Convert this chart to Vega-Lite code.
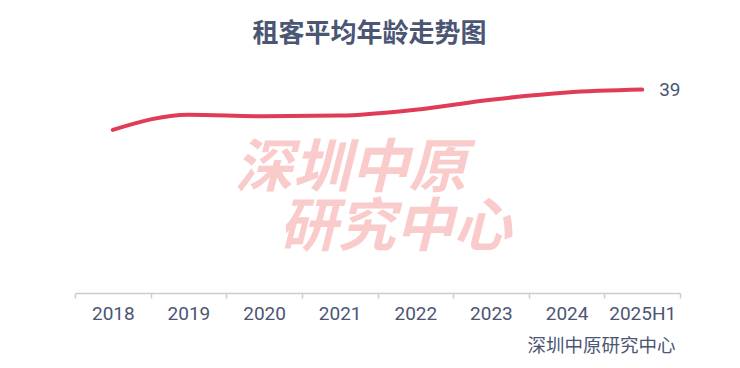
{
  "$schema": "https://vega.github.io/schema/vega-lite/v6.json",
  "width": 605,
  "height": 226,
  "autosize": {"type": "none"},
  "padding": {"left": 75, "top": 67, "right": 60, "bottom": 75},
  "background": "white",
  "title": {
    "text": "租客平均年龄走势图",
    "font": "Noto Sans CJK SC",
    "fontSize": 26,
    "fontWeight": "bold",
    "color": "#4b5574",
    "anchor": "middle",
    "dx": -8,
    "offset": 20
  },
  "config": {"view": {"stroke": null}},
  "data": {
    "values": [
      {"year": "2018", "age": 37.22},
      {"year": "2019", "age": 37.89},
      {"year": "2020", "age": 37.82},
      {"year": "2021", "age": 37.85},
      {"year": "2022", "age": 38.11},
      {"year": "2023", "age": 38.55},
      {"year": "2024", "age": 38.87},
      {"year": "2025H1", "age": 39.0}
    ]
  },
  "encoding": {
    "x": {
      "field": "year",
      "type": "ordinal",
      "scale": {"type": "band", "paddingInner": 0, "paddingOuter": 0},
      "axis": {
        "title": "深圳中原研究中心",
        "titleFont": "Noto Sans CJK SC",
        "titleFontSize": 18.5,
        "titleFontWeight": "normal",
        "titleColor": "#4b5574",
        "titleAlign": "right",
        "titleBaseline": "middle",
        "titleX": 600,
        "titleY": 52,
        "labelFont": "Roboto",
        "labelFontSize": 19,
        "labelColor": "#4b5574",
        "labelPadding": 6,
        "labelAngle": 0,
        "domainColor": "#cccccc",
        "domainWidth": 1.5,
        "tickColor": "#cccccc",
        "tickWidth": 1.5,
        "tickSize": 5,
        "tickBand": "extent"
      }
    },
    "y": {
      "field": "age",
      "type": "quantitative",
      "scale": {"domain": [30, 40], "zero": false, "nice": false},
      "axis": null
    }
  },
  "layer": [
    {
      "data": {"values": [{"wm": "深圳中原", "year": "2021", "age": 35.45}]},
      "mark": {
        "type": "text",
        "font": "Noto Sans CJK SC",
        "fontWeight": "bold",
        "fontStyle": "italic",
        "fontSize": 58,
        "color": "#f9cbcb",
        "align": "center",
        "baseline": "middle",
        "dx": 11
      },
      "encoding": {"text": {"field": "wm"}}
    },
    {
      "data": {"values": [{"wm": "研究中心", "year": "2022", "age": 32.84}]},
      "mark": {
        "type": "text",
        "font": "Noto Sans CJK SC",
        "fontWeight": "bold",
        "fontStyle": "italic",
        "fontSize": 58,
        "color": "#f9cbcb",
        "align": "center",
        "baseline": "middle",
        "dx": -20
      },
      "encoding": {"text": {"field": "wm"}}
    },
    {
      "mark": {
        "type": "line",
        "color": "#e03c58",
        "strokeWidth": 4,
        "strokeCap": "round",
        "interpolate": "monotone"
      }
    },
    {
      "transform": [{"filter": "datum.year === '2025H1'"}],
      "mark": {
        "type": "text",
        "font": "Roboto",
        "fontSize": 19,
        "color": "#4b5574",
        "align": "left",
        "baseline": "middle",
        "dx": 17
      },
      "encoding": {
        "text": {"field": "age", "type": "quantitative", "format": ".0f"}
      }
    }
  ]
}
